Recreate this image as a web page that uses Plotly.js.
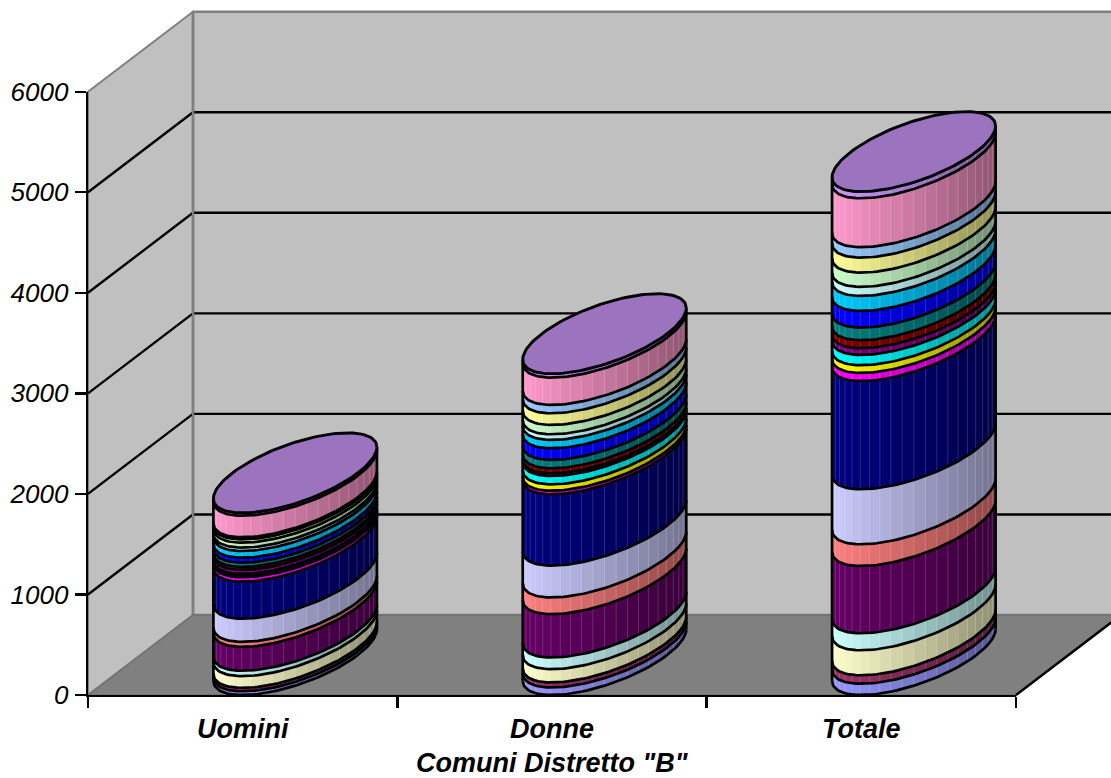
<!DOCTYPE html>
<html>
<head>
<meta charset="utf-8">
<script src="https://cdn.plot.ly/plotly-3.0.1.min.js"></script>
<style>html,body{margin:0;padding:0;background:#fff;overflow:hidden}</style>
</head>
<body>
<div id="chart" style="width:1111px;height:778px"></div>
<script>
// ---- data (bottom to top of each stack) ----
const categories = ["Uomini", "Donne", "Totale"];
const xTitle = "Comuni Distretto \"B\"";
const yTicks = [0, 1000, 2000, 3000, 4000, 5000, 6000];
const uomini = [37, 34, 117, 53, 238, 50, 230, 368, 44, 14, 19, 40, 30, 42, 50, 66, 34, 49, 33, 21, 214, 28];
const donne  = [75, 50, 132, 116, 431, 166, 317, 709, 36, 63, 83, 27, 50, 83, 116, 83, 56, 93, 116, 83, 272, 38];
const totale = [112, 84, 249, 169, 669, 216, 547, 1077, 80, 77, 102, 67, 80, 125, 166, 149, 90, 142, 149, 104, 486, 66];
const seriesColors = ["#9999FF","#993366","#FFFFCC","#CCFFFF","#660066","#FF8080","#CCCCFF","#000080",
  "#FF00FF","#FFFF00","#00FFFF","#800080","#800000","#008080","#0000FF","#00CCFF",
  "#CCFFFF","#CCFFCC","#FFFF99","#99CCFF","#FF99CC","#CC99FF"];
const stacks = [uomini, donne, totale];

// ---- scales ----
const W = 1111, H = 778;
const axL = 88, axR = 1016, axB = 695, axT = 91.7;
const kx = (axR - axL) / 3, ky = (axB - axT) / 6000;
const depthX = 105 / kx, depthY = 80 / ky;
const halfW = 62.7 / kx;
const Bx = depthX / 2, By = depthY / 2;
const R = Math.sqrt(halfW * halfW + Bx * Bx), phi = Math.atan2(Bx, halfW);
const X0 = -0.5, X3 = 2.5, YTOP = 6000;
const base = {type: "scatter", hoverinfo: "skip", showlegend: false, xaxis: "x", yaxis: "y"};
const traces = [];
const poly = (x, y, fill, lc, lw) => traces.push(Object.assign({}, base, {
  x, y, mode: lw > 0 ? "lines" : "none", fill: fill ? "toself" : "none", fillcolor: fill || undefined,
  line: {color: lc || "rgba(0,0,0,0)", width: lw || 0}}));

// walls
poly([X0, X0, X0 + depthX, X0 + depthX, X0], [0, YTOP, YTOP + depthY, depthY, 0], "#C0C0C0", "#808080", 2);
poly([X0 + depthX, X0 + depthX, X3 + depthX, X3 + depthX, X0 + depthX], [depthY, YTOP + depthY, YTOP + depthY, depthY, depthY], "#C0C0C0", "#808080", 2.5);
// gridlines
const gx = [], gy = [];
yTicks.slice(1, -1).forEach(v => { gx.push(X0, X0 + depthX, X3 + depthX, null); gy.push(v, v + depthY, v + depthY, null); });
poly(gx, gy, null, "#000000", 2.4);
poly([X0 + depthX, X0 + depthX], [depthY, YTOP + depthY], null, "#808080", 2.5);
// floor
poly([X0, X3, X3 + depthX, X0 + depthX, X0], [0, 0, depthY, depthY, 0], "#808080", "#707070", 1.5);
poly([X3, X3 + depthX], [0, depthY], null, "#000000", 2.4);

// cylinders
const N = 60, STRIPS = 22;
const ex = (i, s) => i + Bx + R * Math.cos(s);
const ey = (v, s) => v + By + By * Math.sin(phi + s);
const frontS = (a, b, n) => { const o = []; for (let k = 0; k <= n; k++) o.push(a + (b - a) * k / n); return o; };
stacks.forEach((vals, i) => {
  const cum = [0]; vals.forEach(v => cum.push(cum[cum.length - 1] + v));
  const total = cum[cum.length - 1];
  const ss = frontS(Math.PI, 2 * Math.PI, N);
  // coloured bands
  vals.forEach((v, j) => {
    const x = [], y = [];
    ss.forEach(s => { x.push(ex(i, s)); y.push(ey(cum[j], s)); });
    ss.slice().reverse().forEach(s => { x.push(ex(i, s)); y.push(ey(cum[j + 1], s)); });
    x.push(x[0]); y.push(y[0]);
    poly(x, y, seriesColors[j]);
  });
  // shading strips
  const hx = [], hy = [];
  for (let k = 0; k < STRIPS; k++) {
    const a = Math.PI + Math.PI * k / STRIPS, b = Math.PI + Math.PI * (k + 1) / STRIPS;
    const part = frontS(a, b, 5), x = [], y = [];
    part.forEach(s => { x.push(ex(i, s)); y.push(ey(0, s)); });
    part.slice().reverse().forEach(s => { x.push(ex(i, s)); y.push(ey(total, s)); });
    const frac = (ex(i, (a + b) / 2) - (i + Bx - R)) / (2 * R);
    poly(x, y, "rgba(0,0,0," + (0.44 * frac).toFixed(3) + ")");
    if (k) { hx.push(ex(i, a), ex(i, a), null); hy.push(ey(0, a), ey(total, a), null); }
  }
  poly(hx, hy, null, "rgba(255,255,255,0.16)", 1);
  // black outlines
  const lx = [], ly = [];
  cum.slice(0, -1).forEach(c => { ss.forEach(s => { lx.push(ex(i, s)); ly.push(ey(c, s)); }); lx.push(null); ly.push(null); });
  [Math.PI, 2 * Math.PI].forEach(s => { lx.push(ex(i, s), ex(i, s), null); ly.push(ey(0, s), ey(total, s), null); });
  poly(lx, ly, null, "#000000", 2.7);
  // top surface
  const tx = [], ty = [];
  frontS(0, 2 * Math.PI, 2 * N).forEach(s => { tx.push(ex(i, s)); ty.push(ey(total, s)); });
  poly(tx, ty, "#9C73BF", "#000000", 2.9);
});

// axis holder on the real front plane
traces.push({type: "scatter", mode: "none", x: categories, y: [0, 0, 0], xaxis: "x2", yaxis: "y2", hoverinfo: "skip", showlegend: false});

const font = {family: "'Liberation Sans', Arial, sans-serif", color: "#000"};
const layout = {
  width: W, height: H, margin: {l: 0, r: 0, t: 0, b: 0}, paper_bgcolor: "#fff", plot_bgcolor: "rgba(0,0,0,0)", showlegend: false,
  xaxis: {domain: [0, 1], range: [X0 - axL / kx, X0 + (W - axL) / kx], visible: false, fixedrange: true},
  yaxis: {domain: [0, 1], range: [-(H - axB) / ky, axB / ky], visible: false, fixedrange: true},
  xaxis2: {
    domain: [axL / W, axR / W], anchor: "y2", type: "category", categoryorder: "array", categoryarray: categories,
    range: [X0, X3], tickson: "boundaries", ticks: "outside", ticklen: 11, tickwidth: 2.4, tickcolor: "#000",
    showline: true, linecolor: "#000", linewidth: 2.4, showgrid: false, zeroline: false, ticklabelstandoff: 8,
    tickfont: Object.assign({size: 27, weight: 700, style: "italic"}, font),
    automargin: false, fixedrange: true
  },
  yaxis2: {
    domain: [(H - axB) / H, (H - axT) / H], anchor: "x2", range: [0, YTOP], tickmode: "array", tickvals: yTicks,
    ticktext: yTicks.map(v => "<i>" + v + "</i>"),
    ticks: "outside", ticklen: 11, tickwidth: 2.4, tickcolor: "#000", showline: true, linecolor: "#000", linewidth: 2.4,
    showgrid: false, zeroline: false, ticklabelstandoff: 1,
    tickfont: Object.assign({size: 26, style: "italic"}, font), automargin: false, fixedrange: true
  },
  annotations: [{
    text: xTitle, xref: "paper", yref: "paper", x: 552 / W, y: (H - 763) / H, xanchor: "center", yanchor: "middle",
    borderpad: 0, showarrow: false, font: Object.assign({size: 27, weight: 700, style: "italic"}, font)
  }]
};
Plotly.newPlot("chart", traces, layout, {displayModeBar: false, staticPlot: true});
</script>
</body>
</html>
